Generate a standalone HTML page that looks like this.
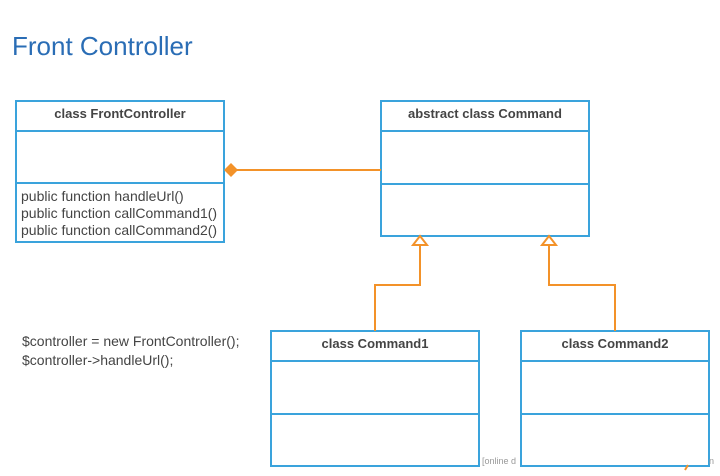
<!DOCTYPE html>
<html><head><style>
body{margin:0;width:720px;height:476px;background:#fff;overflow:hidden;font-family:"Liberation Sans",sans-serif;}
</style></head><body>
<svg width="720" height="476" xmlns="http://www.w3.org/2000/svg" style="position:absolute;left:0;top:0">
<text x="12" y="55" font-size="26" fill="#2a6db5" font-family="Liberation Sans">Front Controller</text>
<g fill="none" stroke="#3aa3dc" stroke-width="2">
<rect x="16" y="101" width="208" height="141"/><line x1="16" y1="131" x2="224" y2="131"/><line x1="16" y1="183" x2="224" y2="183"/>
<rect x="381" y="101" width="208" height="135"/><line x1="381" y1="131" x2="589" y2="131"/><line x1="381" y1="184" x2="589" y2="184"/>
<rect x="271" y="331" width="208" height="135"/><line x1="271" y1="361" x2="479" y2="361"/><line x1="271" y1="414" x2="479" y2="414"/>
<rect x="521" y="331" width="188" height="135"/><line x1="521" y1="361" x2="709" y2="361"/><line x1="521" y1="414" x2="709" y2="414"/>
</g>
<g font-size="13" fill="#444" text-anchor="middle" font-weight="bold">
<text x="120" y="118">class FrontController</text>
<text x="485" y="118">abstract class Command</text>
<text x="375" y="348">class Command1</text>
<text x="615" y="348">class Command2</text>
</g>
<g font-size="14" fill="#444">
<text x="21" y="201">public function handleUrl()</text>
<text x="21" y="218">public function callCommand1()</text>
<text x="21" y="235">public function callCommand2()</text>
<text x="22" y="346">$controller = new FrontController();</text>
<text x="22" y="365">$controller-&gt;handleUrl();</text>
</g>
<g stroke="#f39229" stroke-width="2" fill="none">
<line x1="236" y1="170" x2="381" y2="170"/>
<polyline points="420,245 420,285 375,285 375,331"/>
<polyline points="549,245 549,285 615,285 615,331"/>
<polygon points="420,236 413,245 427,245" fill="#fff"/>
<polygon points="549,236 542,245 556,245" fill="#fff"/>
</g>
<polygon points="224,170 231,163 238,170 231,177" fill="#f39229"/>
<text x="482" y="464" font-size="9" fill="#999">[online d</text>
<text x="709" y="464" font-size="9" fill="#999">n</text>
<line x1="685" y1="470" x2="688" y2="465" stroke="#f39229" stroke-width="2"/>
</svg>
</body></html>
